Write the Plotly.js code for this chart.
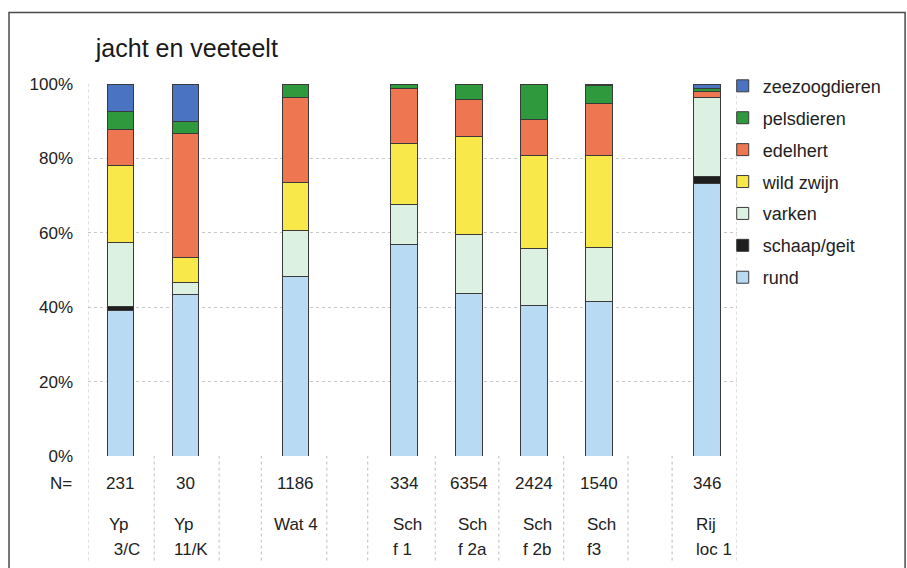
<!DOCTYPE html>
<html>
<head>
<meta charset="utf-8">
<script src="https://cdn.plot.ly/plotly-3.0.1.min.js"></script>
<style>
  html, body { margin: 0; padding: 0; background: #ffffff; }
  #chart { width: 907px; height: 568px; }
</style>
</head>
<body>
<div id="chart"></div>
<script>
// ---- data ----
const categories = ["Yp 3/C", "Yp 11/K", "Wat 4", "Sch f 1", "Sch f 2a", "Sch f 2b", "Sch f3", "Rij loc 1"];
const nValues = ["231", "30", "1186", "334", "6354", "2424", "1540", "346"];
const labelTop = ["Yp", "Yp", "Wat 4", "Sch", "Sch", "Sch", "Sch", "Rij"];
const labelBottom = [" 3/C", "11/K", "", "f 1", "f 2a", "f 2b", "f3", "loc 1"];

const rund          = [39.1, 43.3, 48.3, 56.8, 43.8, 40.4, 41.6, 73.2];
const schaapGeit    = [ 1.1,  0.0,  0.0,  0.0,  0.0,  0.0,  0.0,  1.9];
const varken        = [17.1,  3.3, 12.3, 10.7, 15.7, 15.3, 14.5, 21.3];
const wildZwijn     = [20.7,  6.7, 13.0, 16.6, 26.4, 25.1, 24.6,  0.0];
const edelhert      = [ 9.7, 33.3, 22.9, 14.6,  9.9,  9.7, 14.1,  1.6];
const pelsdieren    = [ 5.0,  3.3,  3.5,  1.3,  4.2,  9.5,  4.9,  0.8];
const zeezoogdieren = [ 7.3, 10.0,  0.0,  0.0,  0.0,  0.0,  0.3,  1.2];

const seriesNames = ["rund", "schaap/geit", "varken", "wild zwijn", "edelhert", "pelsdieren", "zeezoogdieren"];
const seriesValues = [rund, schaapGeit, varken, wildZwijn, edelhert, pelsdieren, zeezoogdieren];

// ---- layout helpers (positions / styles) ----
const barPos = [0, 1, 2.7, 4.37, 5.37, 6.37, 7.37, 9.04];
const tableLines = [-0.5, 0.52, 1.52, 2.17, 3.18, 3.81, 4.85, 5.83, 6.83, 7.82, 8.5, 9.5];
const colors = ["#B8DAF2", "#1E1E1E", "#DDF1E2", "#F8E84A", "#EE7752", "#2F9A3D", "#4A73C2"];
const FONT = "Liberation Sans, Arial, sans-serif";

const traces = seriesNames.map((name, i) => ({
  type: "bar",
  name: name,
  x: barPos,
  y: seriesValues[i],
  width: 0.41,
  legendgroup: "g" + i,
  legendrank: seriesNames.length - i,
  marker: { color: colors[i], line: { color: "#3a3a3a", width: 1 } },
  hovertext: categories,
  hoverinfo: "text+y+name"
}));

const shapes = [];
tableLines.forEach((x, i) => {
  const edge = (i === 0 || i === tableLines.length - 1);
  shapes.push({
    type: "line", xref: "x", yref: "paper",
    x0: x, x1: x, y0: -0.281, y1: edge ? 1 : 0,
    line: { color: "#bdbdbd", width: 1, dash: "dot" }, layer: "below"
  });
});
// outer chart frame
shapes.push({
  type: "rect", xref: "paper", yref: "paper",
  x0: -0.1217, x1: 1.259, y0: -0.33, y1: 1.192,
  line: { color: "#4a4a4a", width: 1.5 }, fillcolor: "rgba(0,0,0,0)"
});

const annotations = [];
annotations.push({
  xref: "paper", yref: "paper", x: -0.022, y: -0.074, xanchor: "right", yanchor: "middle",
  text: "N=", showarrow: false, font: { family: FONT, size: 17, color: "#222" }
});
categories.forEach((c, i) => {
  annotations.push({
    xref: "x", yref: "paper", x: barPos[i], y: -0.074, xanchor: "center", yanchor: "middle",
    text: nValues[i], showarrow: false, font: { family: FONT, size: 17, color: "#222" }
  });
  const centered = labelBottom[i] === "";
  annotations.push({
    xref: "x", yref: "paper", x: centered ? barPos[i] : barPos[i] - 0.205, y: -0.183,
    xanchor: centered ? "center" : "left", yanchor: "middle",
    text: labelTop[i], showarrow: false, font: { family: FONT, size: 17, color: "#222" }
  });
  if (!centered) {
    annotations.push({
      xref: "x", yref: "paper", x: barPos[i] - 0.205, y: -0.25,
      xanchor: "left", yanchor: "middle",
      text: labelBottom[i], showarrow: false, font: { family: FONT, size: 17, color: "#222" }
    });
  }
});

const layout = {
  width: 907, height: 568,
  margin: { l: 88, r: 170, t: 84, b: 112 },
  paper_bgcolor: "#ffffff", plot_bgcolor: "#ffffff",
  barmode: "stack",
  bargap: 0,
  font: { family: FONT, size: 17, color: "#222" },
  title: {
    text: "jacht en veeteelt",
    xref: "paper", x: 0.012, xanchor: "left",
    yref: "container", y: 0.915, yanchor: "middle",
    font: { family: FONT, size: 25, color: "#1a1a1a" }
  },
  xaxis: {
    range: [-0.5, 9.5], showticklabels: false, showgrid: false,
    zeroline: false, showline: false, ticks: "", fixedrange: true
  },
  yaxis: {
    range: [0, 100], tickvals: [0, 20, 40, 60, 80, 100],
    ticktext: ["0%", "20%", "40%", "60%", "80%", "100%"],
    showgrid: true, gridcolor: "#c8c8c8", griddash: "dot", gridwidth: 1,
    zeroline: false, showline: false, ticks: "", ticklabelstandoff: 14,
    tickfont: { family: FONT, size: 17, color: "#222" }, fixedrange: true
  },
  legend: {
    x: 0.978, xanchor: "left", y: 1.044, yanchor: "top",
    traceorder: "grouped", tracegroupgap: 5.5,
    font: { family: FONT, size: 18, color: "#222" },
    bgcolor: "rgba(0,0,0,0)", itemclick: false, itemdoubleclick: false
  },
  shapes: shapes,
  annotations: annotations,
  showlegend: true
};

Plotly.newPlot("chart", traces, layout, { displayModeBar: false, staticPlot: true });
</script>
</body>
</html>
